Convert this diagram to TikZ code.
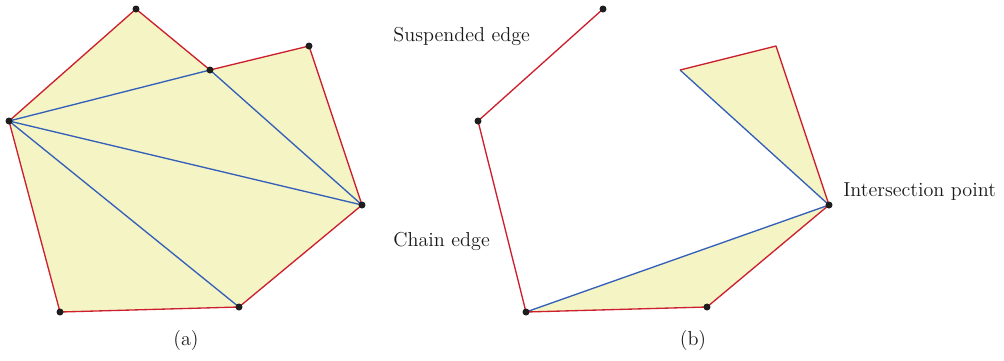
\documentclass[tikz,border=0pt]{standalone}
\usepackage{tikz}
\usetikzlibrary{calc,positioning}
\usepackage{xcolor}
\definecolor{face}{RGB}{244,244,196}
\definecolor{hull}{RGB}{204,32,46}
\definecolor{diag}{RGB}{52,96,186}
\definecolor{vert}{RGB}{30,30,30}
\tikzset{
  chainedge/.style={hull,line width=0.8pt,line join=round},
  diagedge/.style={diag,line width=0.8pt},
  label/.style={font=\fontsize{12.1}{14}\selectfont,text=black!90,inner sep=0pt},
}

\begin{document}
\begin{tikzpicture}[x=0.6pt,y=-0.6pt]
  \useasboundingbox (0,0) rectangle (1004,360);
  % (a) vertices, in pixel coordinates
  \coordinate (a1) at (136,9);
  \coordinate (a2) at (210,70);
  \coordinate (a3) at (309,46);
  \coordinate (a4) at (362,205);
  \coordinate (a5) at (239,307);
  \coordinate (a6) at (60,312);
  \coordinate (a7) at (9,121);
  % (b) vertices
  \coordinate (b1) at (603,9);
  \coordinate (b2) at (478,121);
  \coordinate (b3) at (526,312);
  \coordinate (b4) at (707,307);
  \coordinate (b5) at (829,205);
  \coordinate (b6) at (776,46);
  \coordinate (b7) at (680,70);
  % faces
  \fill[face] (a1) -- (a2) -- (a3) -- (a4) -- (a5) -- (a6) -- (a7) -- cycle;
  \fill[face] (b7) -- (b6) -- (b5) -- cycle;
  \fill[face] (b3) -- (b4) -- (b5) -- cycle;
  % diagonals
  \foreach \u/\v in {a7/a2,a2/a4,a7/a4,a7/a5,b7/b5,b3/b5} { \draw[diagedge] (\u) -- (\v); }
  % boundary
  \draw[chainedge] (a7) -- (a1) -- (a2) -- (a3) -- (a4) -- (a5) -- (a6) -- cycle;
  \draw[chainedge] (b1) -- (b2) -- (b3) -- (b4) -- (b5) -- (b6) -- (b7);
  % vertices
  \foreach \p in {a1,a2,a3,a4,a5,a6,a7,b1,b2,b3,b4,b5} { \fill[vert] (\p) circle (2.1pt); }
  % labels
  \node[label,anchor=west] (susp) at (393,36) {Suspended edge};
  \node[label,anchor=west] (chain) at (393,241) {Chain edge};
  \node[label,anchor=west] (isect) at (843,192) {Intersection point};
  \node[label] (capa) at (186,340) {(a)};
  \node[label] (capb) at (693,340) {(b)};
\end{tikzpicture}
\end{document}
